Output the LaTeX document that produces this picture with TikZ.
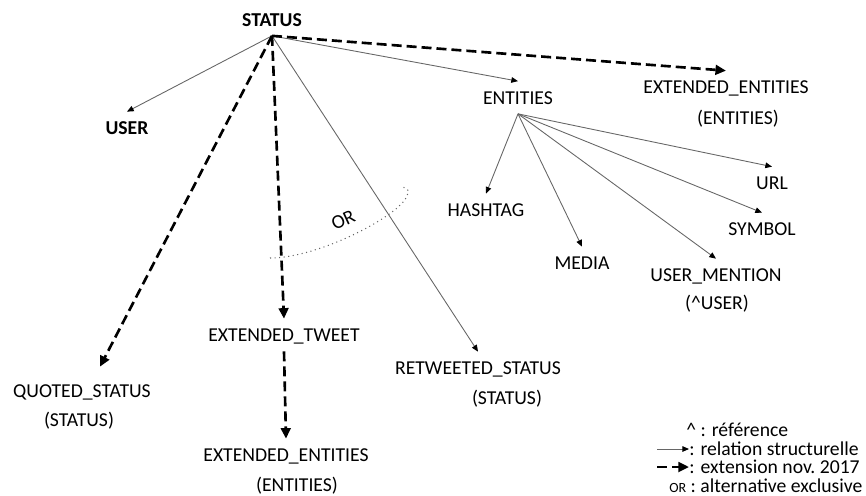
\documentclass[tikz,border=0pt]{standalone}
\usepackage{fontspec}
\setmainfont{Carlito}
\usetikzlibrary{arrows.meta}
\tikzset{
    lbl/.style={font=\fontsize{11.2}{13}\selectfont, text height=2.6mm, text depth=0pt, inner xsep=0pt, inner ysep=1.9mm},
    lblb/.style={lbl, font=\fontsize{11.2}{13}\selectfont\bfseries},
    rel/.style={draw=black!60, line width=0.5pt, -{Triangle[length=3.8pt,width=3.2pt,color=black]}},
    ext/.style={line width=1.5pt, dash pattern=on 0.2cm off 0.1cm, -{Triangle[length=6pt,width=5.5pt]}},
    alt/.style={draw=black!60, line width=0.6pt, dotted},
    leg/.style={font=\fontsize{11.2}{13}\selectfont, inner sep=0pt, anchor=west}
}
\begin{document}
\begin{tikzpicture}[x=0.02cm,y=-0.02cm]
    \useasboundingbox (0,0) rectangle (866,495);
    % tweet objects
    \node[lblb] (status) at (272,19.5) {STATUS};
    \node[lblb] (user) at (127,128) {USER};
    \node[lbl] (entities) at (518,97.5) {ENTITIES};
    \node[lbl] (extent) at (726,87) {EXTENDED\_ENTITIES};
    \node[lbl] (extentsub) at (738,118) {(ENTITIES)};
    \node[lbl] (quoted) at (82,391) {QUOTED\_STATUS};
    \node[lbl] (quotedsub) at (79,420) {(STATUS)};
    \node[lbl] (exttweet) at (284,335) {EXTENDED\_TWEET};
    \node[lbl] (extentb) at (286,455) {EXTENDED\_ENTITIES};
    \node[lbl] (extentbsub) at (297,485) {(ENTITIES)};
    \node[lbl] (retweeted) at (478,368) {RETWEETED\_STATUS};
    \node[lbl] (retweetedsub) at (507,398) {(STATUS)};
    % entities
    \node[lbl] (hashtag) at (486,210) {HASHTAG};
    \node[lbl] (media) at (582,263) {MEDIA};
    \node[lbl] (mention) at (716,275) {USER\_MENTION};
    \node[lbl] (mentionsub) at (717,303) {(\textasciicircum USER)};
    \node[lbl] (symbol) at (762,229) {SYMBOL};
    \node[lbl] (url) at (772,183) {URL};
    % relations
    \draw[rel]
    (status.south) -- (user.north)
    ;
    \draw[rel]
    (status.south) -- (entities.north)
    ;
    \draw[rel]
    (status.south) -- (retweeted.north)
    ;
    \draw[ext]
    (status.south) -- (extent.north)
    ;
    \draw[ext]
    (status.south) -- ([shift={(18,-8)}]quoted.north)
    ;
    \draw[ext]
    (status.south) -- (exttweet.north)
    ;
    \draw[ext]
    (exttweet.south) -- (extentb.north)
    ;
    \foreach \child in {hashtag,media,mention,symbol,url}
        \draw[rel] (entities.south) -- (\child.north);
    % alternative
    \draw[alt]
    (270,258) .. controls (320,258) and (400,215) .. (407,196) .. controls (409,190) .. (403,187)
    ;
    \node[lbl, rotate=25, inner sep=1pt] (orlbl) at (343,220) {OR};
    % legend
    \node[leg] (leg1) at (686,430) {\textasciicircum{} : référence};
    \coordinate (relstart) at (657,449);
    \node[leg] (leg2) at (689,449) {: relation structurelle};
    \draw[rel] (relstart) -- (leg2.west);
    \coordinate (extstart) at (657,467);
    \node[leg] (leg3) at (689,467) {: extension nov.\ 2017};
    \draw[ext] (extstart) -- (leg3.west);
    \node[leg] (leg4) at (669,486) {{\fontsize{8}{9}\selectfont OR} : alternative exclusive};
\end{tikzpicture}
\end{document}
